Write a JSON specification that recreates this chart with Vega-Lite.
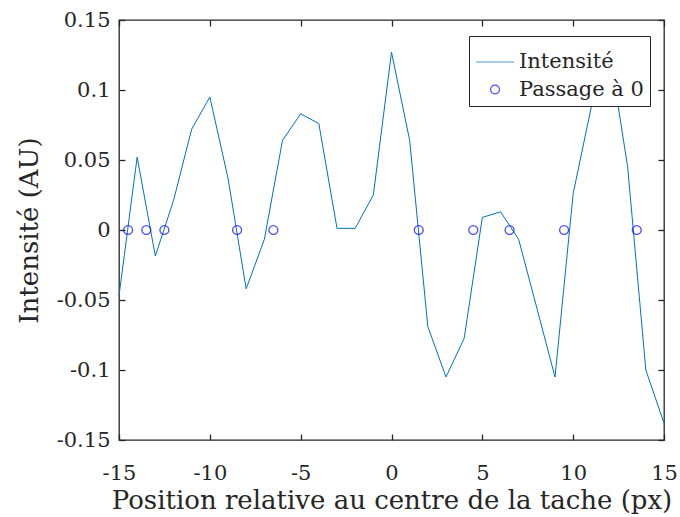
{
  "$schema": "https://vega.github.io/schema/vega-lite/v6.json",
  "width": 545,
  "height": 420,
  "autosize": {"type": "none"},
  "padding": {"left": 119, "top": 20, "right": 16, "bottom": 77},
  "background": "white",
  "datasets": {
    "intensite": [
      {"x": -15, "y": -0.047, "s": "Intensité"},
      {"x": -14, "y": 0.052, "s": "Intensité"},
      {"x": -13, "y": -0.0186, "s": "Intensité"},
      {"x": -12, "y": 0.021, "s": "Intensité"},
      {"x": -11, "y": 0.072, "s": "Intensité"},
      {"x": -10, "y": 0.095, "s": "Intensité"},
      {"x": -9, "y": 0.037, "s": "Intensité"},
      {"x": -8, "y": -0.042, "s": "Intensité"},
      {"x": -7, "y": -0.0067, "s": "Intensité"},
      {"x": -6, "y": 0.064, "s": "Intensité"},
      {"x": -5, "y": 0.083, "s": "Intensité"},
      {"x": -4, "y": 0.076, "s": "Intensité"},
      {"x": -3, "y": 0.0012, "s": "Intensité"},
      {"x": -2, "y": 0.0012, "s": "Intensité"},
      {"x": -1, "y": 0.025, "s": "Intensité"},
      {"x": 0, "y": 0.127, "s": "Intensité"},
      {"x": 1, "y": 0.064, "s": "Intensité"},
      {"x": 2, "y": -0.069, "s": "Intensité"},
      {"x": 3, "y": -0.105, "s": "Intensité"},
      {"x": 4, "y": -0.0774, "s": "Intensité"},
      {"x": 5, "y": 0.009, "s": "Intensité"},
      {"x": 6, "y": 0.013, "s": "Intensité"},
      {"x": 7, "y": -0.0067, "s": "Intensité"},
      {"x": 8, "y": -0.0557, "s": "Intensité"},
      {"x": 9, "y": -0.105, "s": "Intensité"},
      {"x": 10, "y": 0.026, "s": "Intensité"},
      {"x": 11, "y": 0.088, "s": "Intensité"},
      {"x": 12, "y": 0.128, "s": "Intensité"},
      {"x": 13, "y": 0.045, "s": "Intensité"},
      {"x": 14, "y": -0.1, "s": "Intensité"},
      {"x": 15, "y": -0.138, "s": "Intensité"}
    ],
    "zeros": [
      {"x": -14.5, "y": 0, "s": "Passage à 0"},
      {"x": -13.5, "y": 0, "s": "Passage à 0"},
      {"x": -12.5, "y": 0, "s": "Passage à 0"},
      {"x": -8.5, "y": 0, "s": "Passage à 0"},
      {"x": -6.5, "y": 0, "s": "Passage à 0"},
      {"x": 1.5, "y": 0, "s": "Passage à 0"},
      {"x": 4.5, "y": 0, "s": "Passage à 0"},
      {"x": 6.5, "y": 0, "s": "Passage à 0"},
      {"x": 9.5, "y": 0, "s": "Passage à 0"},
      {"x": 13.5, "y": 0, "s": "Passage à 0"}
    ]
  },
  "config": {
    "view": {"stroke": "#262626", "strokeWidth": 1.3, "fill": "transparent"},
    "font": "DejaVu Serif",
    "axis": {
      "grid": false,
      "domain": false,
      "labelFlush": false,
      "labelOverlap": false,
      "labelFont": "DejaVu Serif",
      "labelFontSize": 21,
      "labelColor": "#262626",
      "titleFont": "DejaVu Serif",
      "titleFontSize": 26,
      "titleFontWeight": "normal",
      "titleColor": "#262626"
    }
  },
  "layer": [
    {
      "data": {"name": "intensite"},
      "mark": {"type": "line", "strokeWidth": 1},
      "encoding": {
        "x": {
          "field": "x", "type": "quantitative",
          "scale": {"domain": [-15, 15], "nice": false, "zero": false},
          "axis": {"orient": "bottom", "zindex": 1, "values": [-15, -10, -5, 0, 5, 10, 15], "labelExpr": "'' + datum.value", "ticks": true, "offset": -6, "tickSize": 6, "tickColor": "#262626", "tickWidth": 1.3, "labelPadding": 22, "title": "Position relative au centre de la tache (px)", "titlePadding": 4}
        },
        "y": {
          "field": "y", "type": "quantitative",
          "scale": {"domain": [-0.15, 0.15], "nice": false, "zero": false},
          "axis": {"orient": "left", "zindex": 1, "values": [-0.15, -0.1, -0.05, 0, 0.05, 0.1, 0.15], "labelExpr": "'' + datum.value", "ticks": true, "offset": -6, "tickSize": 6, "tickColor": "#262626", "tickWidth": 1.3, "labelPadding": 9, "title": "Intensité (AU)", "titlePadding": 14}
        },
        "color": {
          "field": "s", "type": "nominal",
          "scale": {"domain": ["Intensité", "Passage à 0"], "range": ["#0072BD", "#0000FF"]},
          "legend": {
            "orient": "none", "legendX": 350, "legendY": 16, "title": null, "zindex": 2,
            "strokeColor": "#262626", "fillColor": "white", "padding": 6,
            "labelFont": "DejaVu Serif", "labelFontSize": 21, "labelColor": "#262626",
            "symbolStrokeWidth": 1.2, "rowPadding": 6
          }
        }
      }
    },
    {
      "data": {"name": "zeros"},
      "mark": {"type": "point", "filled": false, "strokeWidth": 1.3},
      "encoding": {
        "x": {
          "field": "x", "type": "quantitative",
          "axis": {"orient": "top", "zindex": 1, "values": [-15, -10, -5, 0, 5, 10, 15], "labels": false, "title": null, "ticks": true, "offset": -6, "tickSize": 6, "tickColor": "#262626", "tickWidth": 1.3}
        },
        "y": {
          "field": "y", "type": "quantitative",
          "axis": {"orient": "right", "zindex": 1, "values": [-0.15, -0.1, -0.05, 0, 0.05, 0.1, 0.15], "labels": false, "title": null, "ticks": true, "offset": -6, "tickSize": 6, "tickColor": "#262626", "tickWidth": 1.3}
        },
        "color": {"field": "s", "type": "nominal"},
        "shape": {
          "field": "s", "type": "nominal",
          "scale": {"domain": ["Intensité", "Passage à 0"], "range": ["stroke", "circle"]}
        },
        "size": {
          "field": "s", "type": "nominal",
          "scale": {"domain": ["Intensité", "Passage à 0"], "range": [1444, 80]}
        }
      }
    }
  ],
  "resolve": {"axis": {"x": "independent", "y": "independent"}}
}
